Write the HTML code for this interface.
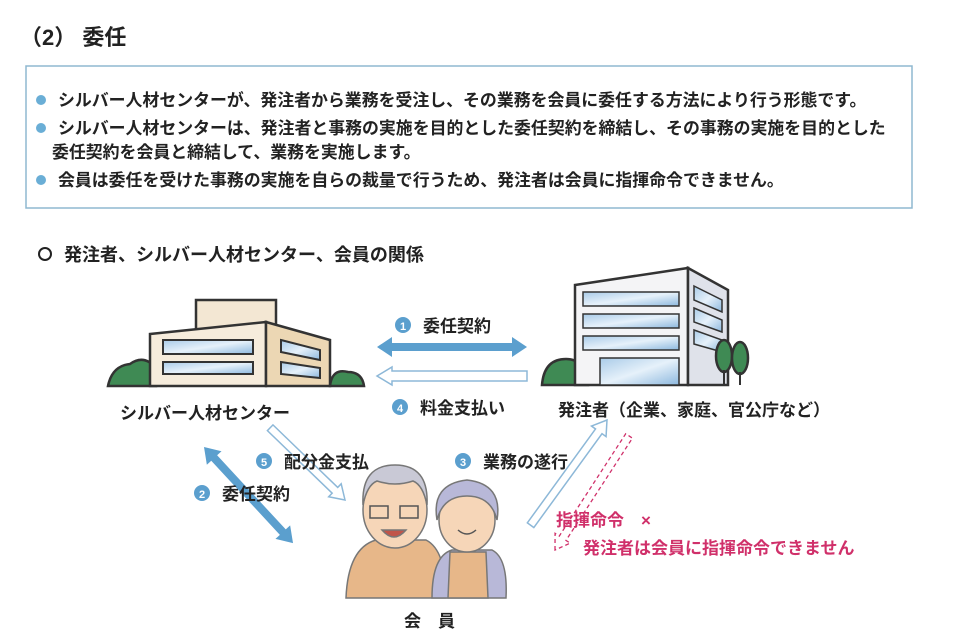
<!DOCTYPE html>
<html><head><meta charset="utf-8"><style>
body{margin:0;background:#fff;}
svg{display:block;font-family:"Liberation Sans","Noto Sans CJK JP",sans-serif;}
</style></head><body>
<svg width="960" height="644" viewBox="0 0 960 644" xmlns="http://www.w3.org/2000/svg">
<defs>
<linearGradient id="win" x1="0" y1="0" x2="1" y2="1"><stop offset="0" stop-color="#a9cbe8"/><stop offset="0.5" stop-color="#e6f1fa"/><stop offset="1" stop-color="#8db8de"/></linearGradient>
</defs>
<text x="20" y="45" font-size="22" font-weight="bold" fill="#222">（2） 委任</text>
<rect x="26" y="66" width="886" height="142" fill="#fff" stroke="#8fb8d0" stroke-width="1.5"/>
<g font-size="16.9" fill="#222" font-weight="bold">
<circle cx="41" cy="100" r="5" fill="#6aaed6"/><text x="58" y="106">シルバー人材センターが、発注者から業務を受注し、その業務を会員に委任する方法により行う形態です。</text>
<circle cx="41" cy="128" r="5" fill="#6aaed6"/><text x="58" y="134">シルバー人材センターは、発注者と事務の実施を目的とした委任契約を締結し、その事務の実施を目的とした</text>
<text x="52" y="158">委任契約を会員と締結して、業務を実施します。</text>
<circle cx="41" cy="180" r="5" fill="#6aaed6"/><text x="58" y="186">会員は委任を受けた事務の実施を自らの裁量で行うため、発注者は会員に指揮命令できません。</text>
</g>
<circle cx="45" cy="254" r="6" fill="none" stroke="#222" stroke-width="2"/>
<text x="64" y="261" font-size="18" font-weight="bold" fill="#222">発注者、シルバー人材センター、会員の関係</text>

<!-- left building -->
<g stroke="#333" stroke-width="2.5">
<path d="M108 386 q4-20 22-22 q14-10 26 4 l0 18z" fill="#3f8a54"/>
<path d="M330 386 q2-18 18-14 q14 0 16 14z" fill="#3f8a54"/>
<rect x="196" y="300" width="80" height="30" fill="#f3e7d3"/>
<polygon points="150,334 266,322 266,386 150,386" fill="#f6ecdc"/>
<polygon points="266,322 330,340 330,386 266,386" fill="#ecd7b4"/>
<rect x="163" y="340" width="90" height="14" fill="url(#win)" stroke-width="2"/>
<rect x="163" y="362" width="90" height="12" fill="url(#win)" stroke-width="2"/>
<polygon points="281,340 320,350 320,360 281,352" fill="url(#win)" stroke-width="2"/>
<polygon points="281,362 320,368 320,378 281,374" fill="url(#win)" stroke-width="2"/>
</g>
<!-- right building -->
<g stroke="#333" stroke-width="2.5">
<path d="M542 385 q2-26 24-26 q20 0 22 26z" fill="#3f8a54"/>
<polygon points="575,285 688,268 688,385 575,385" fill="#f4f4f6"/>
<polygon points="688,268 728,290 728,385 688,385" fill="#dfe2ea"/>
<g fill="url(#win)" stroke-width="1.5">
<rect x="583" y="292" width="96" height="14"/><rect x="583" y="314" width="96" height="14"/><rect x="583" y="336" width="96" height="14"/><rect x="600" y="358" width="79" height="27"/>
<polygon points="694,286 722,300 722,312 694,300"/><polygon points="694,308 722,320 722,332 694,322"/><polygon points="694,330 722,340 722,352 694,344"/>
</g>
<ellipse cx="724" cy="356" rx="8" ry="16" fill="#3f8a54"/><ellipse cx="740" cy="358" rx="8" ry="16" fill="#3f8a54"/>
</g>
<line x1="724" y1="370" x2="724" y2="385" stroke="#333" stroke-width="2"/><line x1="740" y1="372" x2="740" y2="385" stroke="#333" stroke-width="2"/>

<!-- arrows -->
<polygon points="377,347 392,337 392,343 512,343 512,337 527,347 512,357 512,351 392,351 392,357" fill="#5b9fce"/>
<polygon points="377,376 392,367 392,371 527,371 527,381 392,381 392,385" fill="#fff" stroke="#8db8d8" stroke-width="1.5"/>
<g transform="translate(204,447) rotate(47.2)">
<polygon points="0,0 15,-10 15,-4 116,-4 116,-10 131,0 116,10 116,4 15,4 15,10" fill="#5b9fce"/>
</g>
<g transform="translate(345,500) rotate(-136)">
<polygon points="0,0 14,-9 14,-4 104,-4 104,4 14,4 14,9" fill="#fff" stroke="#8db8d8" stroke-width="1.5"/>
</g>
<g transform="translate(607,420) rotate(126)">
<polygon points="0,0 14,-9 14,-4 130,-4 130,4 14,4 14,9" fill="#fff" stroke="#8db8d8" stroke-width="1.5"/>
</g>
<g transform="translate(555,550) rotate(-57)">
<polygon points="0,0 14,-9 14,-4 136,-4 136,4 14,4 14,9" fill="none" stroke="#d0306a" stroke-width="1.3" stroke-dasharray="4,3"/>
</g>

<!-- labels -->
<g font-size="17" font-weight="bold" fill="#222">
<circle cx="403" cy="325" r="8" fill="#5b9fce"/><text x="403" y="330" font-size="11" fill="#fff" text-anchor="middle">1</text><text x="423" y="332">委任契約</text>
<circle cx="400" cy="407" r="8" fill="#5b9fce"/><text x="400" y="412" font-size="11" fill="#fff" text-anchor="middle">4</text><text x="420" y="414">料金支払い</text>
<text x="120" y="419">シルバー人材センター</text>
<text x="558" y="416">発注者（企業、家庭、官公庁など）</text>
<circle cx="264" cy="461" r="8" fill="#5b9fce"/><text x="264" y="466" font-size="11" fill="#fff" text-anchor="middle">5</text><text x="284" y="468">配分金支払</text>
<circle cx="463" cy="461" r="8" fill="#5b9fce"/><text x="463" y="466" font-size="11" fill="#fff" text-anchor="middle">3</text><text x="483" y="468">業務の遂行</text>
<circle cx="202" cy="493" r="8" fill="#5b9fce"/><text x="202" y="498" font-size="11" fill="#fff" text-anchor="middle">2</text><text x="222" y="500">委任契約</text>
<text x="404" y="627">会　員</text>
</g>
<g font-size="17" font-weight="bold" fill="#d0306a">
<text x="556" y="526">指揮命令　×</text>
<text x="583" y="554">発注者は会員に指揮命令できません</text>
</g>

<!-- people -->
<g stroke="#777" stroke-width="1.5">
<path d="M346 598 q2-50 30-58 l50 0 q20 10 20 58z" fill="#e7b789"/>
<ellipse cx="395" cy="510" rx="32" ry="38" fill="#f6d6b8"/>
<path d="M363 505 q-2-40 32-40 q34 0 32 40 q-4-20 -14-24 q-18 6 -36 0 q-10 4 -14 24z" fill="#c9c9d6"/>
<rect x="370" y="506" width="18" height="12" fill="none" stroke="#555"/><rect x="400" y="506" width="18" height="12" fill="none" stroke="#555"/>
<path d="M382 530 q12 14 24 0z" fill="#c0554a"/>
<path d="M432 598 q0-42 20-48 l40 0 q16 8 14 48z" fill="#b8b8d8"/>
<path d="M448 598 l2-46 l36 0 l2 46z" fill="#e7b789"/>
<ellipse cx="467" cy="520" rx="28" ry="32" fill="#f6d6b8"/>
<path d="M437 520 q-6-36 30-40 q36 4 30 40 q-6-24 -30-24 q-24 0 -30 24z" fill="#b8b8d8"/>
<path d="M458 530 q9 8 18 0" fill="none" stroke="#555"/>
</g>
</svg>
</body></html>
